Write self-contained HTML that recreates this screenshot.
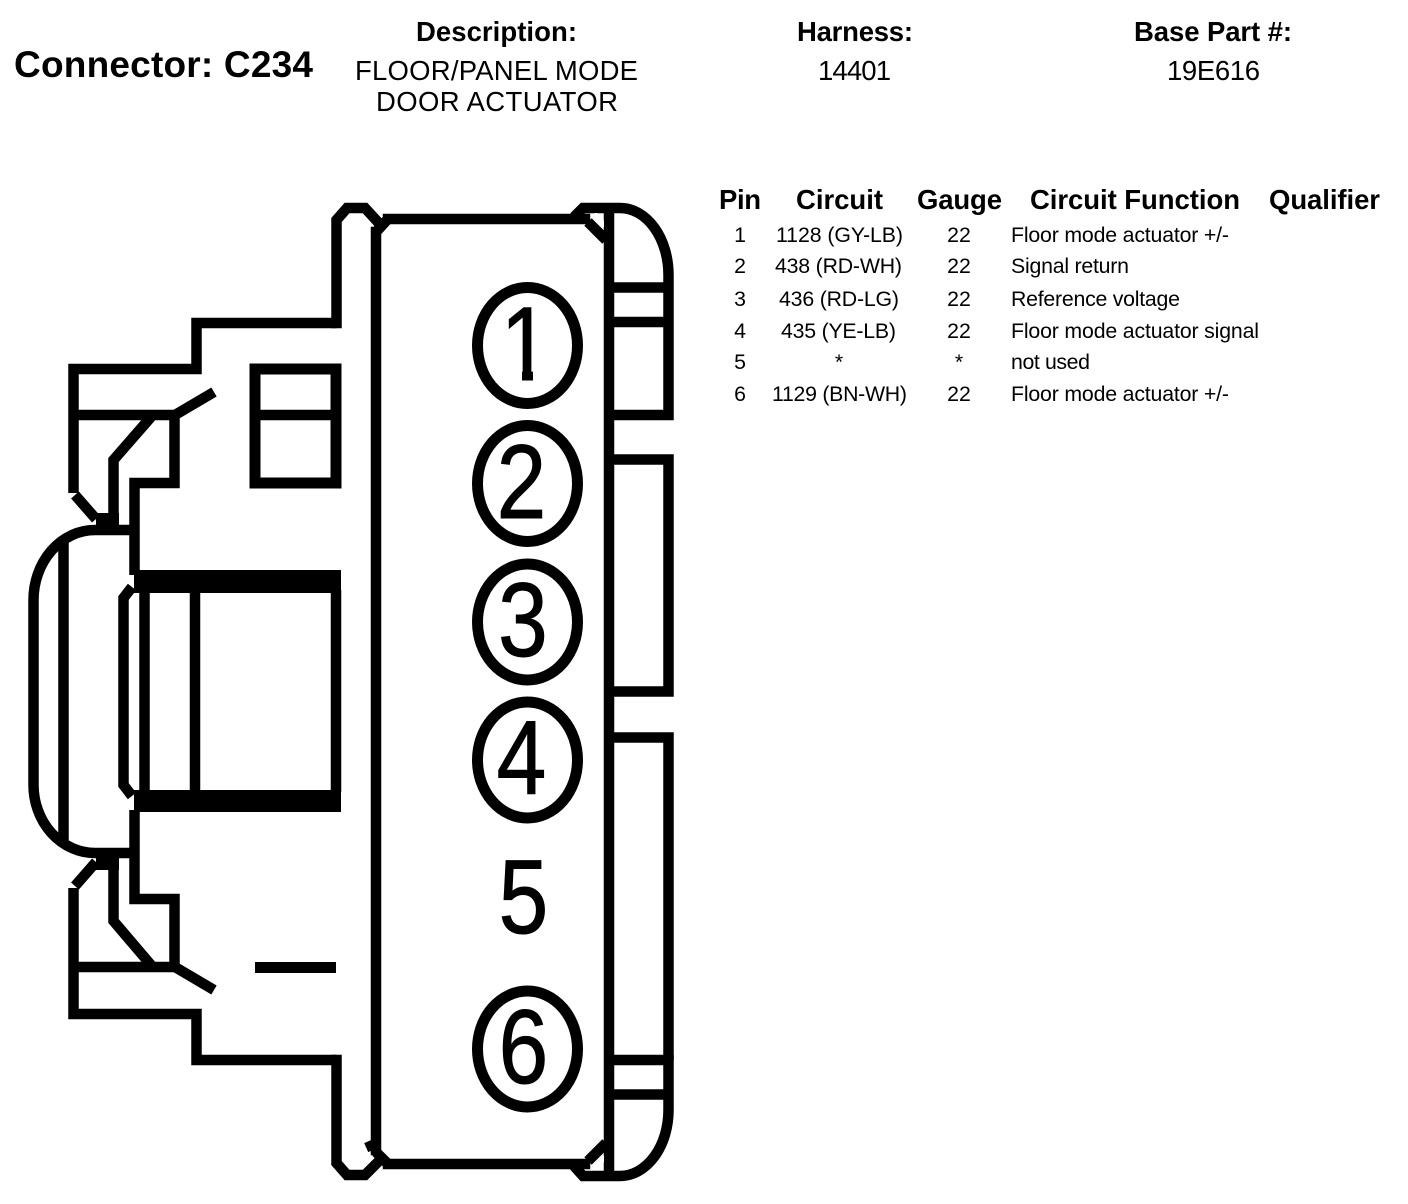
<!DOCTYPE html>
<html><head><meta charset="utf-8"><style>
html,body{margin:0;padding:0;background:#fff;width:1408px;height:1204px;overflow:hidden}
svg{display:block}
text{font-family:"Liberation Sans",Arial,sans-serif;fill:#000}
.h{font-weight:bold;font-size:27.5px}
.v{font-size:27.5px}
.r{font-size:21.3px}
.d{font-size:105px}
.d text{stroke:#000;stroke-width:1}
.l{fill:none;stroke:#000;stroke-width:10.5;stroke-linecap:square;stroke-linejoin:miter}
.n{stroke-linecap:butt}
</style></head><body>
<svg width="1408" height="1204" viewBox="0 0 1408 1204" xmlns="http://www.w3.org/2000/svg">
<defs><filter id="b" x="0" y="0" width="100%" height="100%" filterUnits="userSpaceOnUse" color-interpolation-filters="sRGB"><feComponentTransfer><feFuncR type="discrete" tableValues="0 1"/><feFuncG type="discrete" tableValues="0 1"/><feFuncB type="discrete" tableValues="0 1"/></feComponentTransfer></filter></defs>
<rect width="1408" height="1204" fill="#fff"/>
<g filter="url(#b)">
<text x="14" y="77" style="font-weight:bold;font-size:37px" textLength="299">Connector: C234</text>
<text class="h" x="416" y="41" textLength="161">Description:</text>
<text class="v" x="355" y="80" textLength="283">FLOOR/PANEL MODE</text>
<text class="v" x="376" y="111" textLength="242">DOOR ACTUATOR</text>
<text class="h" x="797" y="41" textLength="116">Harness:</text>
<text class="v" x="818" y="80" textLength="73">14401</text>
<text class="h" x="1134" y="41" textLength="158">Base Part #:</text>
<text class="v" x="1167" y="80" textLength="93">19E616</text>

<text class="h" x="719" y="209" textLength="42">Pin</text>
<text class="h" x="796" y="209" textLength="87">Circuit</text>
<text class="h" x="917" y="209" textLength="85">Gauge</text>
<text class="h" x="1030" y="209" textLength="210">Circuit Function</text>
<text class="h" x="1269" y="209" textLength="111">Qualifier</text>

<g class="r">
<text x="740" y="242" text-anchor="middle">1</text><text x="776" y="242" textLength="127">1128 (GY-LB)</text><text x="959" y="242" text-anchor="middle">22</text><text x="1011" y="242" textLength="218">Floor mode actuator +/-</text>
<text x="740" y="273" text-anchor="middle">2</text><text x="775" y="273" textLength="127">438 (RD-WH)</text><text x="959" y="273" text-anchor="middle">22</text><text x="1011" y="273" textLength="118">Signal return</text>
<text x="740" y="306" text-anchor="middle">3</text><text x="779" y="306" textLength="120">436 (RD-LG)</text><text x="959" y="306" text-anchor="middle">22</text><text x="1011" y="306" textLength="169">Reference voltage</text>
<text x="740" y="338" text-anchor="middle">4</text><text x="781" y="338" textLength="115">435 (YE-LB)</text><text x="959" y="338" text-anchor="middle">22</text><text x="1011" y="338" textLength="248">Floor mode actuator signal</text>
<text x="740" y="369" text-anchor="middle">5</text><text x="839" y="369" text-anchor="middle">*</text><text x="959" y="369" text-anchor="middle">*</text><text x="1011" y="369" textLength="79">not used</text>
<text x="740" y="401" text-anchor="middle">6</text><text x="772" y="401" textLength="135">1129 (BN-WH)</text><text x="959" y="401" text-anchor="middle">22</text><text x="1011" y="401" textLength="218">Floor mode actuator +/-</text>
</g>

<!-- main body -->
<path class="l" d="M376 232V1150M388 219H585M388 1164H585"/>
<path class="l n" d="M609 208V1176"/>
<path class="l n" d="M376 232L388 219M376 1152L388 1164"/>
<path class="l n" d="M588 222L606 240M588 1161L606 1143"/>
<!-- top nub -->
<path class="l" d="M336.5 323V220L347 208H365L376 220"/>
<!-- bottom nub -->
<path class="l" d="M336.5 1060V1163L347 1175H365L376 1164"/>
<path class="l n" d="M369 1141L373 1150"/>
<!-- right caps -->
<path class="l n" d="M574 217L583 208H620A48.5 67 0 0 1 668.5 275V415H609"/>
<path class="l n" d="M609 287.5H668M609 322H668"/>
<path class="l n" d="M574 1166L583 1176H620A48.5 66 0 0 0 668.5 1110V1060H609M609 1094.5H668"/>
<polygon points="590,214 597,213 604,221 604,227" fill="#fff"/>
<polygon points="590,1169 597,1170 604,1162 604,1156" fill="#fff"/>
<!-- right boxes -->
<path class="l n" d="M609 459.5H668.5V691.5H609"/>
<path class="l n" d="M609 737.5H668.5V1060"/>

<g class="d" text-anchor="middle">
<text transform="translate(525.5 380) scale(.85 1)">1</text>
<text transform="translate(521.5 518) scale(.85 1)">2</text>
<text transform="translate(523 656) scale(.85 1)">3</text>
<text transform="translate(521.5 794) scale(.85 1)">4</text>
<text transform="translate(523.5 933) scale(.85 1)">5</text>
<text transform="translate(523.5 1083) scale(.85 1)">6</text>
</g>
<!-- hide the foot of the digit 1 -->
<rect x="495" y="371" width="27" height="12" fill="#fff"/>
<rect x="533" y="371" width="25" height="12" fill="#fff"/>
<!-- circles -->
<g fill="none" stroke="#000" stroke-width="11">
<ellipse cx="527.5" cy="345.5" rx="50" ry="58"/>
<ellipse cx="527.5" cy="483.5" rx="50" ry="58"/>
<ellipse cx="527.5" cy="622" rx="50" ry="58"/>
<ellipse cx="527.5" cy="760" rx="50" ry="58"/>
<ellipse cx="527.5" cy="1049" rx="50" ry="58"/>
</g>

<!-- upper left outline -->
<path class="l n" d="M336.5 323H196.5V369H73.5V493"/>
<path class="l n" d="M73.5 415H175"/>
<path class="l n" d="M175 415L214 392"/>
<path class="l n" d="M174.5 415V483H134.5V575"/>
<path class="l n" d="M151 417L113.5 460V523"/>
<path class="l n" d="M75 495L96 519"/>
<rect x="96" y="513" width="23" height="12" fill="#000"/>
<!-- lower left outline -->
<path class="l n" d="M336.5 1060H196.5V1014H73.5V888"/>
<path class="l n" d="M73.5 967H175"/>
<path class="l n" d="M175 967L214 990"/>
<path class="l n" d="M174.5 967V899H134.5V810"/>
<path class="l n" d="M151 965L113.5 921V863"/>
<path class="l n" d="M75 886L96 862"/>
<rect x="96" y="858" width="23" height="12" fill="#000"/>
<!-- dome -->
<path class="l n" d="M134 530H95A61.5 70 0 0 0 33.5 600V785A61.5 68 0 0 0 95 853H134"/>
<path class="l n" d="M63.5 538V842"/>
<!-- barrel -->
<rect x="134" y="570" width="207" height="23" fill="#000"/>
<rect x="134" y="790" width="207" height="22" fill="#000"/>
<path class="l n" d="M144.5 590V792M195 590V792M336 590V792"/>
<path class="l n" d="M132 587L123.5 598V785L132 796"/>
<!-- rect -->
<rect x="255" y="369" width="81" height="114" fill="none" stroke="#000" stroke-width="11"/>
<path class="l n" d="M255 415H336"/>
<rect x="255" y="962" width="81" height="11" fill="#000"/>
</g>
</svg>
</body></html>
